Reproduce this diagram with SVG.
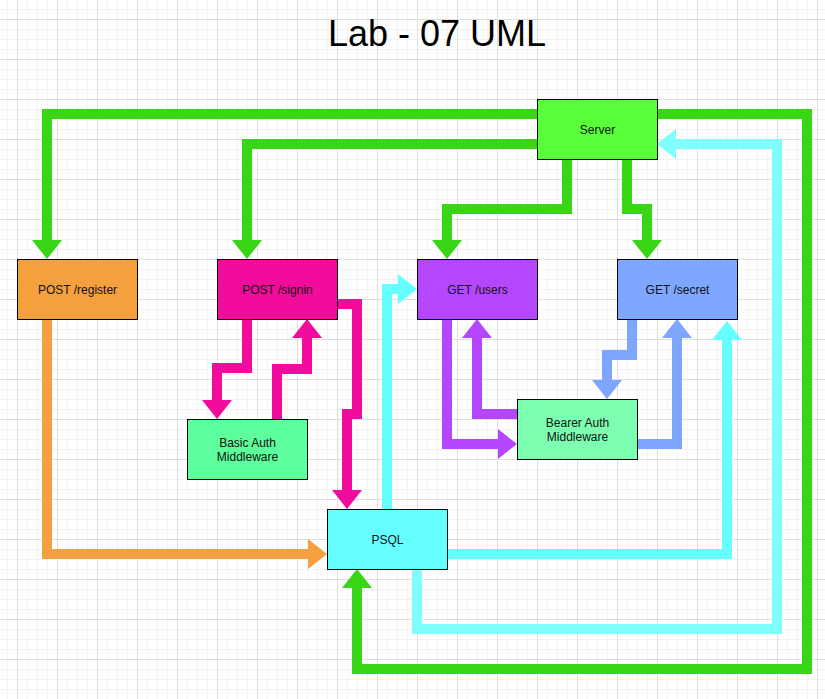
<svg xmlns="http://www.w3.org/2000/svg" width="825" height="699" viewBox="0 0 825 699">
<style>
.node{stroke:#000;stroke-width:1}
.lbl{font-family:"Liberation Sans",Arial,sans-serif;font-size:12px;fill:#111;text-anchor:middle}
.c{fill:none;stroke-width:10;stroke-linejoin:miter;stroke-linecap:butt}
.g{stroke:#38D614;marker-end:url(#hg)}
.cy{stroke:#66FFFF;marker-end:url(#hcy)}
.cl{stroke:#80FFFF;marker-end:url(#hcl)}
.o{stroke:#F4A040;marker-end:url(#ho)}
.p{stroke:#F20C9E;marker-end:url(#hp)}
.u{stroke:#B546FF;marker-end:url(#hu)}
.b{stroke:#7EA6FF;marker-end:url(#hb)}
</style>
<defs>
<pattern id="grid" x="17" y="19" width="40" height="40" patternUnits="userSpaceOnUse">
<rect x="0" y="0" width="40" height="40" fill="#fff"/>
<rect x="10" y="0" width="1" height="40" fill="#f3f3f3"/>
<rect x="20" y="0" width="1" height="40" fill="#f3f3f3"/>
<rect x="30" y="0" width="1" height="40" fill="#f3f3f3"/>
<rect x="0" y="10" width="40" height="1" fill="#f3f3f3"/>
<rect x="0" y="20" width="40" height="1" fill="#f3f3f3"/>
<rect x="0" y="30" width="40" height="1" fill="#f3f3f3"/>
<rect x="0" y="0" width="1" height="40" fill="#dedede"/>
<rect x="0" y="0" width="40" height="1" fill="#dedede"/>
</pattern>
<marker id="hg" markerUnits="userSpaceOnUse" markerWidth="19" markerHeight="30" viewBox="0 -15 19 30" refX="0" refY="0" orient="auto"><path d="M0,-15 L19,0 L0,15 z" fill="#38D614"/></marker>
<marker id="hcy" markerUnits="userSpaceOnUse" markerWidth="19" markerHeight="30" viewBox="0 -15 19 30" refX="0" refY="0" orient="auto"><path d="M0,-15 L19,0 L0,15 z" fill="#66FFFF"/></marker>
<marker id="hcl" markerUnits="userSpaceOnUse" markerWidth="19" markerHeight="30" viewBox="0 -15 19 30" refX="0" refY="0" orient="auto"><path d="M0,-15 L19,0 L0,15 z" fill="#80FFFF"/></marker>
<marker id="ho" markerUnits="userSpaceOnUse" markerWidth="19" markerHeight="30" viewBox="0 -15 19 30" refX="0" refY="0" orient="auto"><path d="M0,-15 L19,0 L0,15 z" fill="#F4A040"/></marker>
<marker id="hp" markerUnits="userSpaceOnUse" markerWidth="19" markerHeight="30" viewBox="0 -15 19 30" refX="0" refY="0" orient="auto"><path d="M0,-15 L19,0 L0,15 z" fill="#F20C9E"/></marker>
<marker id="hu" markerUnits="userSpaceOnUse" markerWidth="19" markerHeight="30" viewBox="0 -15 19 30" refX="0" refY="0" orient="auto"><path d="M0,-15 L19,0 L0,15 z" fill="#B546FF"/></marker>
<marker id="hb" markerUnits="userSpaceOnUse" markerWidth="19" markerHeight="30" viewBox="0 -15 19 30" refX="0" refY="0" orient="auto"><path d="M0,-15 L19,0 L0,15 z" fill="#7EA6FF"/></marker>
</defs>
<rect x="0" y="0" width="825" height="699" fill="url(#grid)"/>
<text x="437" y="46" font-family="'Liberation Sans',Arial,sans-serif" font-size="36" text-anchor="middle" fill="#000">Lab - 07 UML</text>
<g id="connectors">
<path class="c g" d="M537,114 H47 V240"/>
<path class="c g" d="M537,144 H247 V240"/>
<path class="c g" d="M567,159 V209 H447 V240"/>
<path class="c g" d="M627,159 V209 H647 V240"/>
<path class="c g" d="M657,114 H807 V669 H357 V588"/>
<path class="c cl" d="M417,569 V629 H777 V144 H676"/>
<path class="c cy" d="M447,554 H727 V340"/>
<path class="c cy" d="M387,509 V289 H398"/>
<path class="c o" d="M47,319 V554 H308"/>
<path class="c p" d="M247,319 V368 H217 V400"/>
<path class="c p" d="M277,419 V369 H307 V338"/>
<path class="c p" d="M337,304 H357 V414 H347 V490"/>
<path class="c u" d="M447,319 V444 H498"/>
<path class="c u" d="M517,414 H477 V338"/>
<path class="c b" d="M632,319 V355 H607 V380"/>
<path class="c b" d="M637,444 H677 V338"/>
</g>
<g id="server"><rect class="node" x="537.5" y="99.5" width="120" height="60" fill="#59FF3B"/><text class="lbl" x="597.5" y="134">Server</text></g>
<g id="post-register"><rect class="node" x="17.5" y="259.5" width="120" height="60" fill="#F4A03F"/><text class="lbl" x="77.5" y="294">POST /register</text></g>
<g id="post-signin"><rect class="node" x="217.5" y="259.5" width="120" height="60" fill="#F20C9B"/><text class="lbl" x="277.5" y="294">POST /signin</text></g>
<g id="get-users"><rect class="node" x="417.5" y="259.5" width="120" height="60" fill="#B548FF"/><text class="lbl" x="477.5" y="294">GET /users</text></g>
<g id="get-secret"><rect class="node" x="617.5" y="259.5" width="120" height="60" fill="#7EA8FF"/><text class="lbl" x="677.5" y="294">GET /secret</text></g>
<g id="basic-auth"><rect class="node" x="187.5" y="419.5" width="120" height="60" fill="#5CFF9C"/><text class="lbl" x="247.5" y="446.5">Basic Auth</text><text class="lbl" x="247.5" y="460.5">Middleware</text></g>
<g id="bearer-auth"><rect class="node" x="517.5" y="399.5" width="120" height="60" fill="#7DFFB2"/><text class="lbl" x="577.5" y="426.5">Bearer Auth</text><text class="lbl" x="577.5" y="440.5">Middleware</text></g>
<g id="psql"><rect class="node" x="327.5" y="509.5" width="120" height="60" fill="#66FFFF"/><text class="lbl" x="387.5" y="544">PSQL</text></g>
</svg>
